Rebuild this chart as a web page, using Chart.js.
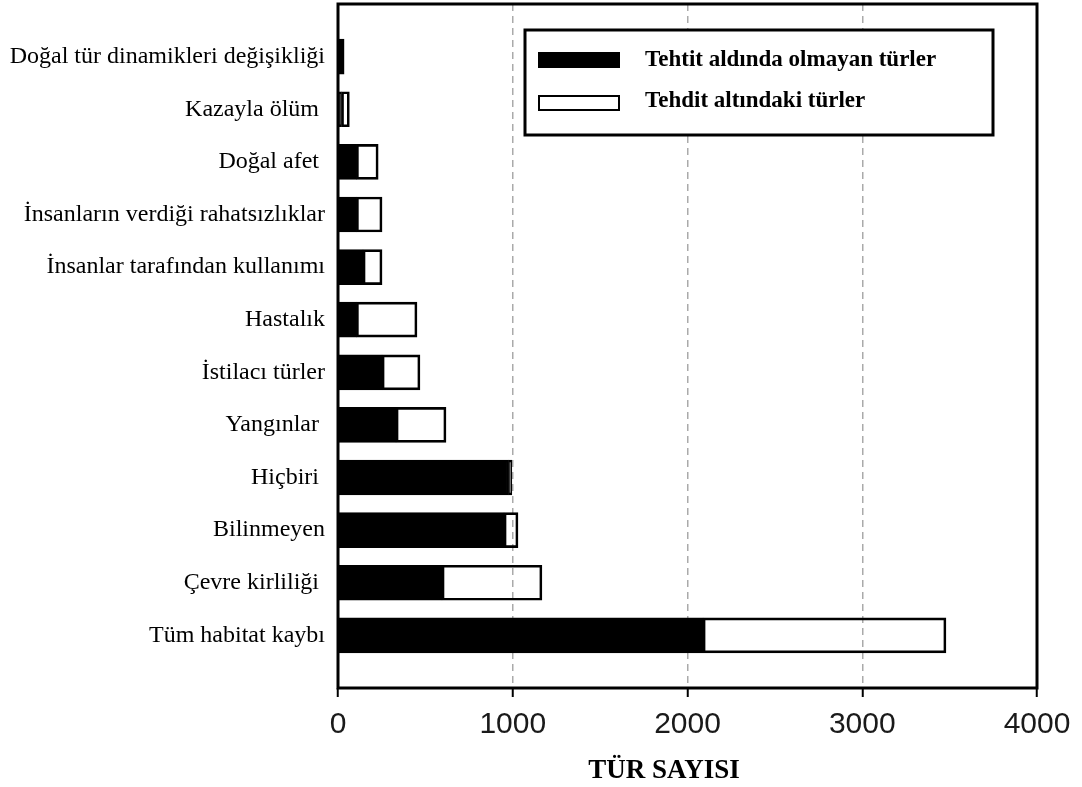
<!DOCTYPE html>
<html>
<head>
<meta charset="utf-8">
<script src="https://cdn.jsdelivr.net/npm/chart.js@4.4.0/dist/chart.umd.min.js"></script>
<style>
  body { margin: 0; background: #fff; }
  #chart { display: block; }
</style>
</head>
<body>
<canvas id="chart" width="1082" height="787"></canvas>
<script>
// categories, top to bottom
var categories = [
  'Doğal tür dinamikleri değişikliği',
  'Kazayla ölüm ',
  'Doğal afet ',
  'İnsanların verdiği rahatsızlıklar',
  'İnsanlar tarafından kullanımı',
  'Hastalık',
  'İstilacı türler',
  'Yangınlar ',
  'Hiçbiri ',
  'Bilinmeyen',
  'Çevre kirliliği ',
  'Tüm habitat kaybı'
];
var notThreatened = [35, 20, 105, 105, 143, 105, 252, 332, 975, 950, 595, 2089];
var threatened = [0, 45, 125, 147, 109, 347, 217, 286, 20, 80, 572, 1390];
var xTicks = [0, 1000, 2000, 3000, 4000];
var seriesNames = ['Tehtit aldında olmayan türler', 'Tehdit altındaki türler'];
var axisTitle = 'TÜR SAYISI';

// one empty slot above and below the bars
function pad(arr, blank) { return [blank].concat(arr, [blank]); }

var serif = "'Liberation Serif', 'Times New Roman', serif";

var framePlugin = {
  id: 'frame',
  afterDraw: function (chart) {
    var c = chart.ctx, a = chart.chartArea;
    c.save();
    // plot frame
    c.lineWidth = 3;
    c.strokeStyle = '#000';
    c.strokeRect(a.left, a.top, a.right - a.left, a.bottom - a.top);

    // legend box
    c.lineWidth = 3;
    c.fillStyle = '#fff';
    c.fillRect(525, 30, 468, 105);
    c.strokeRect(525, 30, 468, 105);
    c.fillStyle = '#000';
    c.fillRect(538, 52, 82, 16);
    c.lineWidth = 2;
    c.fillStyle = '#fff';
    c.fillRect(539, 96, 80, 14);
    c.strokeRect(539, 96, 80, 14);
    c.fillStyle = '#000';
    c.font = 'bold 23px ' + serif;
    c.textAlign = 'left';
    c.textBaseline = 'alphabetic';
    c.fillText(chart.data.datasets[0].label, 645, 66);
    c.fillText(chart.data.datasets[1].label, 645, 107);

    // axis title
    c.font = 'bold 27px ' + serif;
    c.textAlign = 'center';
    c.textBaseline = 'middle';
    c.fillText(axisTitle, 664, 771);
    c.restore();
  }
};

var ctx = document.getElementById('chart').getContext('2d');
var chart = new Chart(ctx, {
  type: 'bar',
  data: {
    labels: pad(categories, ''),
    datasets: [{
      label: seriesNames[0],
      data: pad(notThreatened, null),
      backgroundColor: '#000',
      borderColor: '#000',
      borderWidth: 2,
      borderSkipped: false,
      barThickness: 35
    }, {
      label: seriesNames[1],
      data: pad(threatened, null),
      backgroundColor: 'rgba(255,255,255,0)',
      borderColor: '#000',
      borderWidth: 2,
      borderSkipped: false,
      barThickness: 35
    }]
  },
  options: {
    indexAxis: 'y',
    responsive: false,
    animation: false,
    layout: { padding: { top: 4, right: 45, left: 0, bottom: 0 } },
    plugins: {
      legend: { display: false },
      tooltip: { enabled: false }
    },
    scales: {
      x: {
        stacked: true,
        min: 0,
        max: 4000,
        afterBuildTicks: function (scale) {
          scale.ticks = xTicks.map(function (v) { return { value: v }; });
        },
        afterFit: function (scale) { scale.height = 99; },
        ticks: {
          font: { family: "'Liberation Sans', Arial, sans-serif", size: 30 },
          color: '#1a1a1a',
          padding: 10,
          maxRotation: 0,
          callback: function (v) { return String(v); }
        },
        grid: {
          color: function (c) {
            var v = c.tick && c.tick.value;
            return (v === 0 || v === 4000) ? 'rgba(0,0,0,0)' : '#aaa';
          },
          lineWidth: 1.5,
          tickColor: '#000',
          tickWidth: 2,
          tickLength: 9
        },
        border: { display: false, dash: [7, 5] }
      },
      y: {
        stacked: true,
        offset: false,
        afterFit: function (scale) {
          scale.width = 338;
          scale.paddingTop = 0;
          scale.paddingBottom = 0;
        },
        ticks: {
          font: { family: serif, size: 24 },
          color: '#000',
          padding: 13,
          autoSkip: false
        },
        grid: { display: false, drawTicks: false },
        border: { display: false }
      }
    }
  },
  plugins: [framePlugin]
});
</script>
</body>
</html>
